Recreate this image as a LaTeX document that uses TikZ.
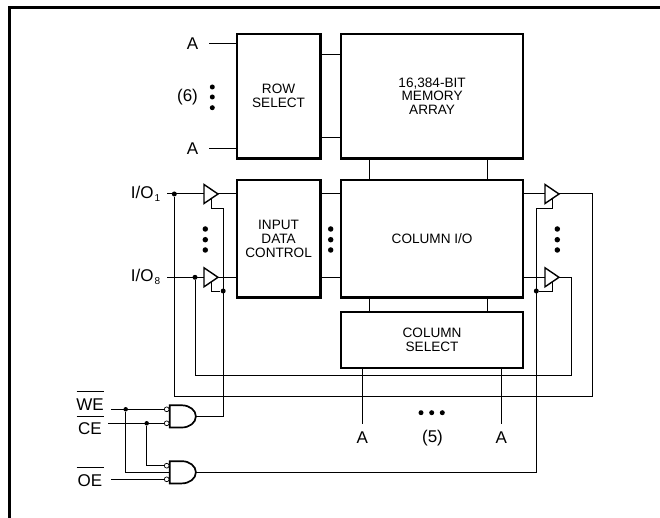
\documentclass[tikz,border=0pt]{standalone}
\usepackage{fontspec}
\setmainfont{Liberation Sans}
\usetikzlibrary{shapes.geometric}

\newcommand{\barred}[1]{$\overline{\makebox[27pt]{\rule{0pt}{17pt}#1}}$}
\newcommand{\iolabel}[1]{I/O\kern1pt\raisebox{-3pt}{\fontsize{10}{10}\selectfont #1}}
\newcommand{\andbody}[1]{\draw[gatebody, shift={(#1)}] (0,-11.1) -- (12.2,-11.1)
    arc[x radius = 14pt, y radius = 11.1pt, start angle = 90, end angle = -90]
    -- (0,11.1) -- cycle;}

\begin{document}
\begin{tikzpicture}[x = 1pt, y = -1pt, % pixel grid of the sheet
                line width = 1pt, % wire style
                node distance = 153pt, % distance between blocks
                font = \fontsize{17}{17}\selectfont
            ]

            \tikzstyle{block}=[draw = black, line width = 2.4pt, inner sep = 0pt,
            align = center, font = \fontsize{13.6}{13.8}\selectfont]
            \tikzstyle{dot}=[circle, fill = black, inner sep = 0pt, minimum size = 5pt]
            \tikzstyle{bigdot}=[dot, minimum size = 5.5pt]
            \tikzstyle{buf}=[draw = black, line width = 1.4pt, isosceles triangle,
            isosceles triangle stretches, minimum width = 19pt, minimum height = 14pt,
            inner sep = 0pt, outer sep = 0pt, anchor = apex]
            \tikzstyle{gatebody}=[draw = black, line width = 1.7pt, line join = miter]
            \tikzstyle{bubble}=[circle, draw = black, fill = white, line width = 0.7pt,
            inner sep = 0pt, minimum size = 4.8pt]
            \tikzstyle{barlabel}=[anchor = base, inner sep = 0pt]

            \useasboundingbox (0,0) rectangle (660,518);

            % sheet edge
            \coordinate (edgetop) at (660,7.5); \coordinate (edgecorner) at (9.3,7.5);
            \coordinate (edgeleft) at (9.3,518);
            \draw[line width = 2.5pt] (edgetop) -- (edgecorner) -- (edgeleft);

            % blocks
            \node[block, minimum width = 83.7pt, minimum height = 124.9pt] (rowsel)
                at (278.6,96.2) {ROW\\SELECT};
            \node[block, minimum width = 181.7pt, minimum height = 124.9pt] (memory)
                [right of=rowsel, node distance = 153.5pt] {16,384-BIT\\MEMORY\\ARRAY};
            \node[block, minimum width = 83.7pt, minimum height = 117.1pt] (datactl)
                [below of=rowsel, node distance = 142.55pt] {INPUT\\DATA\\CONTROL};
            \node[block, minimum width = 181.7pt, minimum height = 117.1pt] (colio)
                [right of=datactl, node distance = 153.5pt] {COLUMN I/O};
            \node[block, minimum width = 181.7pt, minimum height = 55.8pt] (colsel)
                [below of=colio, node distance = 101.15pt] {COLUMN\\SELECT};

            % buffers
            \node[buf] (bufin1) at (218,194) {}; \node[buf] (bufin8) at (218,277.3) {};
            \node[buf] (bufout1) at (559,194) {}; \node[buf] (bufout8) at (559,277.3) {};

            % gates
            \coordinate (gatewe) at (169.7,416.4); \coordinate (gateoe) at (169.7,472.3);
            \coordinate (gateweout) at (195.9,416.4); \coordinate (gateoeout) at (195.9,472.3);
            \andbody{gatewe} \andbody{gateoe}
            \node[bubble] (inwe) at (166.7,409.3) {}; \node[bubble] (ince) at (166.7,423.3) {};
            \node[bubble] (inoce) at (166.7,465.7) {}; \node[bubble] (inoe) at (166.7,479.3) {};

            % labels
            \node (a1) at (192.5,44) {A}; \node (a2) at (192.5,149) {A};
            \node (six) at (187.5,97.5) {(6)};
            \node (io1) [anchor = east] at (164,194) {\iolabel{1}};
            \node (io8) [anchor = east] at (164,277.3) {\iolabel{8}};
            \node (a3) at (362.3,438) {A}; \node (a4) at (501.3,438) {A};
            \node (five) at (432.5,438) {(5)};
            \node[barlabel] (we) at (90,410) {\barred{WE}};
            \node[barlabel] (ce) at (90,434.3) {\barred{CE}};
            \node[barlabel] (oe) at (90,486) {\barred{OE}};

            % ellipsis dots
            \node[dot] (r1) at (212.3,87) {}; \node[dot] (r2) at (212.3,97) {};
            \node[dot] (r3) at (212.3,107.7) {};
            \node[bigdot] (l1) at (205.3,229) {}; \node[bigdot] (l2) at (205.3,239.7) {};
            \node[bigdot] (l3) at (205.3,250) {};
            \node[bigdot] (m1) at (330.7,229) {}; \node[bigdot] (m2) at (330.7,239.7) {};
            \node[bigdot] (m3) at (330.7,250) {};
            \node[bigdot] (q1) at (557.3,229) {}; \node[bigdot] (q2) at (557.3,239.7) {};
            \node[bigdot] (q3) at (557.3,250) {};
            \node[dot] (c1) at (421,412.7) {}; \node[dot] (c2) at (431.7,412.7) {};
            \node[dot] (c3) at (442.3,412.7) {};

            % junctions
            \node[dot] (j1) at (174.3,194) {}; \node[dot] (j8) at (195,277.3) {};
            \node[dot] (jen) at (223.2,291) {}; \node[dot] (jout) at (536.3,291) {};
            \node[dot, minimum size = 4.5pt] (jwe) at (125.7,409.3) {};
            \node[dot, minimum size = 4.5pt] (jce) at (146.7,423.3) {};

            % free ends and bends
            \coordinate (ara) at (209,44); \coordinate (arb) at (209,149);
            \coordinate (rm1) at (330,55); \coordinate (rm2) at (330,138);
            \coordinate (ci1) at (369.3,170); \coordinate (ci2) at (487.3,170);
            \coordinate (ioa) at (167,194); \coordinate (iob) at (167,277.3);
            \coordinate (aca) at (362.3,424); \coordinate (acb) at (501.3,424);
            \coordinate (wea) at (111,409.3); \coordinate (cea) at (108,423.3);
            \coordinate (oea) at (111,479.3);
            \coordinate (en1) at (223.2,208.3); \coordinate (en2) at (536.3,208.3);
            \coordinate (lo1) at (174.3,396.3); \coordinate (lo2) at (195,375.3);
            \coordinate (ro1) at (592.3,396.3); \coordinate (ro2) at (571.3,375.3);
            \coordinate (gwe) at (223.2,416.4); \coordinate (goe) at (536.3,472.3);
            \coordinate (bce) at (146.7,465.7); \coordinate (bwe) at (125.7,472.3);

            % block links
            \draw (ara) -- (ara -| rowsel.west); \draw (arb) -- (arb -| rowsel.west);
            \draw (rm1 -| rowsel.east) -- (rm1 -| memory.west);
            \draw (rm2 -| rowsel.east) -- (rm2 -| memory.west);
            \draw (ci1 |- memory.south) -- (ci1 |- colio.north);
            \draw (ci2 |- memory.south) -- (ci2 |- colio.north);
            \draw (ci1 |- colio.south) -- (ci1 |- colsel.north);
            \draw (ci2 |- colio.south) -- (ci2 |- colsel.north);
            \draw (aca |- colsel.south) -- (aca); \draw (acb |- colsel.south) -- (acb);
            \draw (bufin1.apex) -- (bufin1.apex -| datactl.west);
            \draw (bufin8.apex) -- (bufin8.apex -| datactl.west);
            \draw (bufin1.apex -| datactl.east) -- (bufin1.apex -| colio.west);
            \draw (bufin8.apex -| datactl.east) -- (bufin8.apex -| colio.west);
            \draw (bufout1.lower side -| colio.east) -- (bufout1.lower side);
            \draw (bufout8.lower side -| colio.east) -- (bufout8.lower side);

            % data lines
            \draw (ioa) -- (bufin1.lower side); \draw (iob) -- (bufin8.lower side);
            \draw (j1) -- (lo1) -- (ro1) -- (ro1 |- bufout1.apex) -- (bufout1.apex);
            \draw (j8) -- (lo2) -- (ro2) -- (ro2 |- bufout8.apex) -- (bufout8.apex);

            % enables
            \draw (bufin1.right side) -- (bufin1.right side |- en1) -- (en1) -- (gwe)
                -- (gateweout);
            \draw (bufin8.right side) -- (bufin8.right side |- jen) -- (jen);
            \draw (bufout1.right side) -- (bufout1.right side |- en2) -- (en2) -- (goe)
                -- (gateoeout);
            \draw (bufout8.right side) -- (bufout8.right side |- jout) -- (jout);

            % gate inputs
            \draw (wea) -- (inwe); \draw (cea) -- (ince);
            \draw (jce) -- (bce) -- (inoce);
            \draw (jwe) -- (bwe) -- (gateoe);
            \draw (oea) -- (inoe);
        \end{tikzpicture}
\end{document}
